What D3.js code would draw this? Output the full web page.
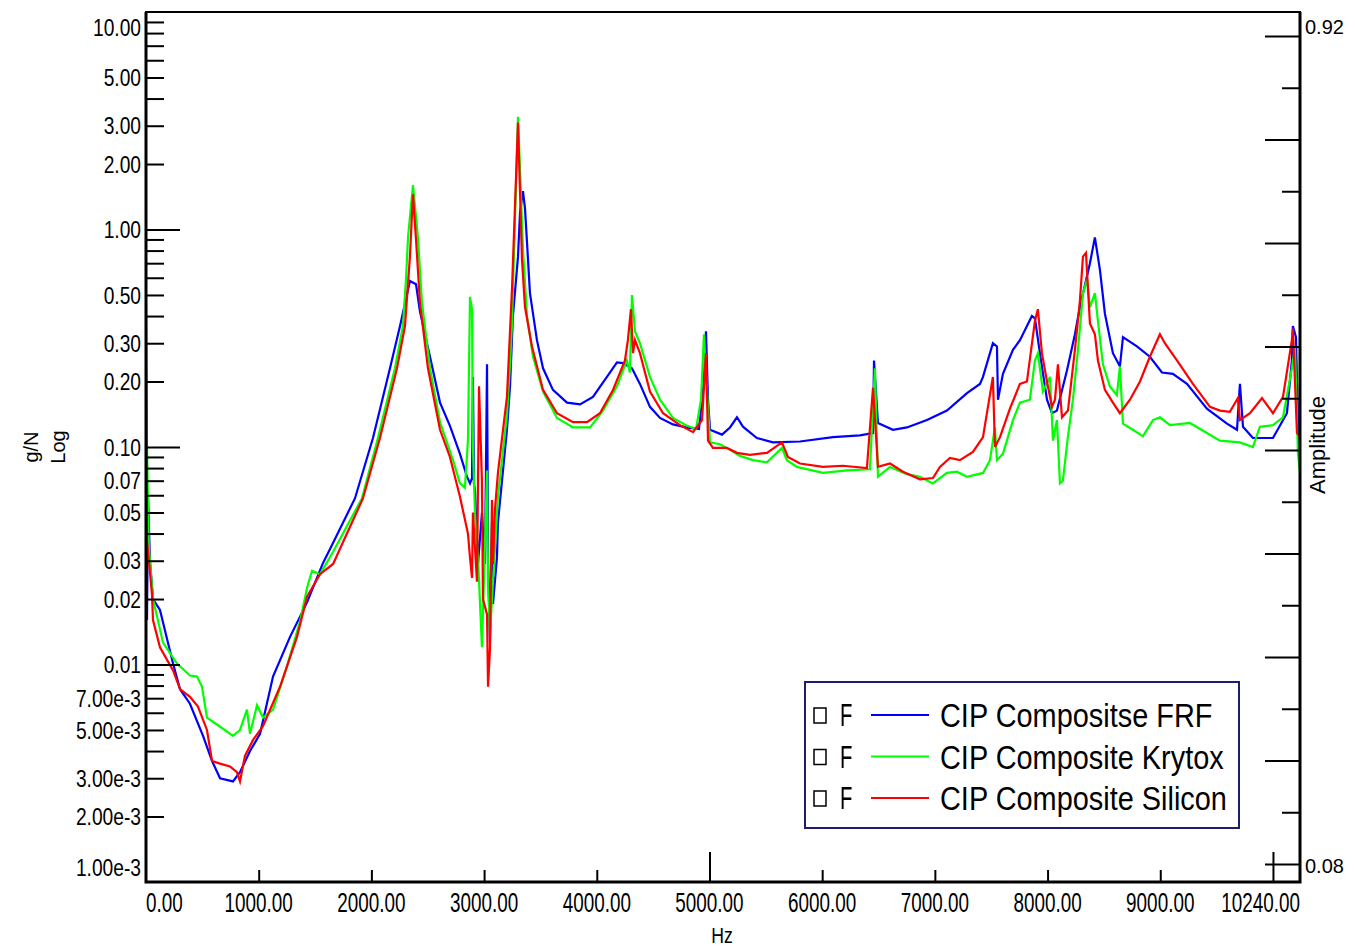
<!DOCTYPE html>
<html>
<head>
<meta charset="utf-8">
<script src="https://cdn.jsdelivr.net/npm/d3@7"></script>
<style>
  body { margin: 0; background: #fff; }
  svg text { font-family: "Liberation Sans", Arial, sans-serif; fill: #000; }
</style>
</head>
<body>
<div id="chart"></div>
<script>
// series: [Hz, g/N]
const seriesNames = ["CIP Compositse FRF", "CIP Composite Krytox", "CIP Composite Silicon"];
const seriesColors = ["#0000ff", "#00ff00", "#ff0000"];

const frfData = [
  [0,0.45],[9,0.016],[18,0.06],[35,0.03],[62,0.02],[124,0.0178],[240,0.0101],[302,0.0077],[390,0.0066],
  [506,0.0047],[586,0.0036],[657,0.0030],[772,0.0029],[834,0.0032],[923,0.0040],[1012,0.0048],[1127,0.0088],
  [1278,0.0134],[1429,0.0193],[1571,0.0293],[1633,0.034],[1854,0.058],[2014,0.11],[2165,0.23],[2254,0.36],
  [2342,0.58],[2396,0.56],[2431,0.42],[2520,0.26],[2609,0.16],[2697,0.125],[2786,0.093],[2848,0.073],
  [2875,0.068],[2893,0.072],[2901,0.21],[2910,0.068],[2919,0.063],[2946,0.029],[2981,0.050],[3008,0.029],
  [3026,0.24],[3035,0.031],[3052,0.0125],[3070,0.045],[3079,0.019],[3114,0.031],[3123,0.045],[3159,0.07],
  [3203,0.12],[3230,0.19],[3256,0.40],[3301,0.75],[3319,1.2],[3345,1.5],[3363,1.25],[3381,0.87],[3407,0.51],
  [3469,0.31],[3523,0.23],[3611,0.183],[3736,0.16],[3851,0.157],[3966,0.17],[4090,0.21],[4179,0.245],
  [4232,0.243],[4312,0.23],[4383,0.195],[4472,0.153],[4561,0.136],[4676,0.127],[4792,0.123],[4907,0.121],
  [4951,0.2],[4969,0.34],[4987,0.165],[5005,0.12],[5111,0.114],[5182,0.123],[5244,0.137],[5297,0.124],
  [5421,0.11],[5563,0.105],[5803,0.106],[6096,0.111],[6335,0.113],[6451,0.116],[6460,0.25],[6495,0.129],
  [6628,0.12],[6752,0.123],[6930,0.133],[7107,0.147],[7285,0.177],[7400,0.195],[7427,0.21],[7515,0.30],
  [7551,0.29],[7560,0.165],[7604,0.217],[7693,0.28],[7755,0.31],[7861,0.40],[7888,0.39],[7932,0.27],
  [7995,0.165],[8039,0.143],[8083,0.147],[8172,0.225],[8243,0.33],[8287,0.44],[8376,0.70],[8420,0.92],
  [8465,0.65],[8509,0.41],[8580,0.27],[8642,0.235],[8669,0.32],[8793,0.29],[8908,0.26],[9015,0.22],
  [9112,0.217],[9237,0.195],[9414,0.15],[9592,0.128],[9681,0.12],[9707,0.195],[9734,0.124],[9822,0.11],
  [10000,0.11],[10124,0.143],[10168,0.25],[10177,0.36],[10204,0.32],[10222,0.133],[10240,0.093]
];

const krytoxData = [
  [0,0.30],[9,0.10],[25,0.035],[62,0.02],[151,0.0126],[275,0.0101],[390,0.0089],[453,0.0088],[497,0.0079],
  [541,0.0057],[630,0.0053],[772,0.0047],[834,0.0050],[896,0.0062],[923,0.0048],[985,0.0065],[1038,0.0057],
  [1127,0.0062],[1251,0.0098],[1367,0.0158],[1429,0.0225],[1473,0.027],[1544,0.026],[1660,0.033],
  [1916,0.058],[2058,0.11],[2209,0.23],[2280,0.36],[2307,0.59],[2325,0.92],[2369,1.6],[2413,0.92],
  [2449,0.46],[2520,0.23],[2609,0.13],[2724,0.087],[2786,0.068],[2830,0.065],[2857,0.108],[2875,0.49],
  [2893,0.43],[2901,0.10],[2919,0.05],[2946,0.031],[2981,0.012],[2990,0.017],[3026,0.078],[3035,0.024],
  [3052,0.0138],[3079,0.024],[3123,0.059],[3159,0.087],[3203,0.14],[3230,0.24],[3248,0.37],[3256,0.53],
  [3301,3.3],[3345,0.81],[3381,0.40],[3434,0.26],[3523,0.18],[3647,0.136],[3789,0.123],[3940,0.123],
  [4055,0.147],[4179,0.19],[4267,0.25],[4294,0.22],[4312,0.50],[4339,0.34],[4383,0.30],[4472,0.21],
  [4561,0.165],[4676,0.136],[4792,0.126],[4881,0.121],[4925,0.165],[4951,0.33],[4969,0.22],[5005,0.105],
  [5093,0.103],[5182,0.097],[5270,0.091],[5386,0.087],[5510,0.085],[5643,0.099],[5687,0.087],[5776,0.081],
  [6007,0.076],[6220,0.078],[6424,0.079],[6468,0.23],[6495,0.073],[6602,0.081],[6752,0.075],[6868,0.073],
  [6983,0.068],[7107,0.076],[7196,0.077],[7285,0.073],[7427,0.076],[7489,0.087],[7533,0.123],[7551,0.087],
  [7604,0.093],[7693,0.133],[7755,0.16],[7843,0.165],[7888,0.25],[7914,0.27],[7959,0.18],[8021,0.21],
  [8048,0.107],[8083,0.133],[8110,0.068],[8136,0.07],[8181,0.112],[8225,0.165],[8270,0.28],[8314,0.51],
  [8350,0.59],[8376,0.44],[8420,0.51],[8447,0.38],[8491,0.24],[8553,0.19],[8615,0.173],[8642,0.235],
  [8669,0.128],[8758,0.12],[8846,0.112],[8935,0.133],[8997,0.137],[9086,0.126],[9263,0.129],[9414,0.116],
  [9530,0.107],[9707,0.105],[9822,0.10],[9884,0.124],[10000,0.126],[10089,0.137],[10168,0.23],[10195,0.29],
  [10222,0.093],[10240,0.076]
];

const siliconData = [
  [0,0.22],[9,0.037],[53,0.021],[62,0.016],[124,0.012],[240,0.0094],[302,0.0077],[390,0.0071],[461,0.0064],
  [541,0.0050],[586,0.0036],[657,0.0035],[745,0.0034],[807,0.0032],[834,0.0029],[878,0.0038],[950,0.0045],
  [1038,0.0052],[1189,0.0079],[1340,0.0134],[1429,0.0205],[1544,0.026],[1660,0.029],[1925,0.058],
  [2076,0.11],[2227,0.23],[2298,0.36],[2342,0.75],[2369,1.45],[2396,0.9],[2431,0.46],[2502,0.23],
  [2609,0.12],[2697,0.09],[2786,0.059],[2857,0.040],[2875,0.031],[2893,0.025],[2901,0.050],[2937,0.024],
  [2955,0.19],[2981,0.07],[2990,0.020],[3026,0.017],[3035,0.0079],[3052,0.0117],[3070,0.057],[3079,0.029],
  [3097,0.052],[3123,0.076],[3168,0.12],[3203,0.17],[3230,0.34],[3248,0.54],[3301,3.1],[3336,0.73],
  [3363,0.44],[3425,0.29],[3523,0.183],[3647,0.143],[3789,0.13],[3913,0.13],[4028,0.143],[4144,0.183],
  [4250,0.25],[4276,0.31],[4303,0.43],[4321,0.27],[4339,0.31],[4383,0.27],[4472,0.18],[4588,0.143],
  [4738,0.126],[4854,0.117],[4934,0.133],[4969,0.27],[4987,0.107],[5031,0.099],[5155,0.099],[5244,0.094],
  [5359,0.092],[5510,0.094],[5643,0.105],[5696,0.090],[5803,0.084],[6007,0.081],[6184,0.082],[6397,0.080],
  [6451,0.187],[6495,0.081],[6602,0.084],[6717,0.077],[6868,0.071],[6983,0.072],[7045,0.081],[7134,0.089],
  [7222,0.087],[7338,0.095],[7427,0.111],[7515,0.21],[7533,0.10],[7578,0.111],[7666,0.15],[7755,0.195],
  [7817,0.20],[7888,0.38],[7914,0.43],[7950,0.27],[7995,0.20],[8039,0.153],[8066,0.165],[8092,0.24],
  [8128,0.137],[8181,0.147],[8243,0.28],[8287,0.47],[8314,0.75],[8341,0.78],[8376,0.37],[8420,0.33],
  [8447,0.25],[8509,0.183],[8580,0.16],[8642,0.143],[8731,0.165],[8820,0.20],[8908,0.26],[8997,0.33],
  [9041,0.30],[9148,0.25],[9290,0.195],[9441,0.153],[9530,0.147],[9618,0.145],[9689,0.168],[9707,0.133],
  [9796,0.143],[9903,0.168],[10000,0.143],[10089,0.17],[10168,0.31],[10177,0.35],[10213,0.116],[10240,0.111]
];

const xTickValues = [0, 1000, 2000, 3000, 4000, 5000, 6000, 7000, 8000, 9000, 10240];
const yTickLabels = [10, 5, 3, 2, 1, 0.5, 0.3, 0.2, 0.1, 0.07, 0.05, 0.03, 0.02, 0.01, 0.007, 0.005, 0.003, 0.002, 0.001];
const rightAxisLabels = [0.92, 0.08];

const W = 1355, H = 948;
const L = 146, R = 1300, T = 12, B = 882;

const svg = d3.select("#chart").append("svg").attr("width", W).attr("height", H);

const x = d3.scaleLinear().domain([0, 10240]).range([L, R]);
const y = d3.scaleLog().domain([1e-3, 10]).range([B, T]);
const amp = d3.scaleLinear().domain([0.08, 0.92]).range([864, 36]);

// curves
svg.append("clipPath").attr("id", "plot").append("rect")
  .attr("x", L).attr("y", T).attr("width", R - L).attr("height", B - T);

const line = d3.line().x(d => x(d[0])).y(d => y(d[1]));
svg.append("g").attr("clip-path", "url(#plot)")
  .selectAll("path").data([frfData, krytoxData, siliconData]).enter().append("path")
  .attr("d", line)
  .attr("fill", "none")
  .attr("stroke", (d, i) => seriesColors[i])
  .attr("stroke-width", 2.2)
  .attr("stroke-linejoin", "miter");

// left axis ticks (inside)
const minor = [];
[1e-3, 1e-2, 1e-1, 1].forEach(d => d3.range(1, 10).forEach(k => { if (!(d === 1e-3 && k === 1)) minor.push(d * k); }));
const major = [0.01, 0.1, 1];

const tickStyle = g => { g.select(".domain").remove(); g.selectAll("line").attr("stroke", "#000").attr("stroke-width", 2); };

svg.append("g").attr("transform", `translate(${L},0)`)
  .call(d3.axisRight(y).tickValues(minor.filter(v => !major.includes(v))).tickSize(18).tickFormat(""))
  .call(tickStyle);
svg.append("g").attr("transform", `translate(${L},0)`)
  .call(d3.axisRight(y).tickValues(major).tickSize(34).tickFormat(""))
  .call(tickStyle);

// bottom ticks
svg.append("g").attr("transform", `translate(0,${B})`)
  .call(d3.axisTop(x).tickValues([1000, 2000, 3000, 4000, 6000, 7000, 8000, 9000]).tickSize(12).tickFormat(""))
  .call(tickStyle);
svg.append("g").attr("transform", `translate(0,${B})`)
  .call(d3.axisTop(x).tickValues([5000, 10000]).tickSize(30).tickFormat(""))
  .call(tickStyle);

// right axis ticks
const ampTicks = d3.range(17).map(i => 0.08 + i * 0.0525);
svg.append("g").attr("transform", `translate(${R},0)`)
  .call(d3.axisLeft(amp).tickValues(ampTicks.filter((v, i) => i % 2 === 1)).tickSize(18).tickFormat(""))
  .call(tickStyle);
svg.append("g").attr("transform", `translate(${R},0)`)
  .call(d3.axisLeft(amp).tickValues(ampTicks.filter((v, i) => i % 2 === 0)).tickSize(35).tickFormat(""))
  .call(tickStyle);

// frame
svg.append("rect").attr("x", L).attr("y", T).attr("width", R - L).attr("height", B - T)
  .attr("fill", "none").attr("stroke", "#000").attr("stroke-width", 2);
svg.append("path").attr("d", `M${L},${T}V${B}H${R}V${T}`)
  .attr("fill", "none").attr("stroke", "#000").attr("stroke-width", 3);

// left labels
const fmtY = v => v >= 0.01 ? v.toFixed(2) : v.toExponential(2);
svg.append("g").selectAll("g").data(yTickLabels).enter().append("g")
  .attr("transform", d => `translate(141,${Math.min(Math.max(y(d), 27), 867)}) scale(0.8,1)`)
  .append("text")
  .attr("text-anchor", "end").attr("dy", "0.36em").attr("font-size", 24)
  .text(fmtY);

// bottom labels
svg.append("g").selectAll("g").data(xTickValues).enter().append("g")
  .attr("transform", d => `translate(${x(d)},912) scale(0.7,1)`)
  .append("text")
  .attr("font-size", 27)
  .attr("text-anchor", (d, i) => i === 0 ? "start" : i === xTickValues.length - 1 ? "end" : "middle")
  .text(d => d.toFixed(2));

// right labels
svg.append("g").selectAll("text").data(rightAxisLabels).enter().append("text")
  .attr("x", R + 5).attr("y", (d, i) => i === 0 ? 27 : 866).attr("dy", "0.36em")
  .attr("font-size", 20)
  .text(d => d.toFixed(2));

// axis titles
svg.append("text").attr("transform", "translate(38,447) rotate(-90)")
  .attr("text-anchor", "middle").attr("font-size", 20).text("g/N");
svg.append("text").attr("transform", "translate(65,447) rotate(-90)")
  .attr("text-anchor", "middle").attr("font-size", 20).text("Log");
svg.append("text").attr("transform", "translate(1325,445) rotate(-90)")
  .attr("text-anchor", "middle").attr("font-size", 22).text("Amplitude");
svg.append("g").attr("transform", "translate(722,943) scale(0.8,1)")
  .append("text").attr("text-anchor", "middle").attr("font-size", 22).text("Hz");

// legend
const leg = svg.append("g");
leg.append("rect").attr("x", 805).attr("y", 682).attr("width", 434).attr("height", 146)
  .attr("fill", "#fff").attr("stroke", "#1c1c70").attr("stroke-width", 2);
const rows = leg.selectAll("g.row").data(seriesNames).enter().append("g")
  .attr("class", "row").attr("transform", (d, i) => `translate(0,${715 + i * 41.5})`);
rows.append("rect").attr("x", 814).attr("y", -7).attr("width", 12).attr("height", 15)
  .attr("fill", "none").attr("stroke", "#000").attr("stroke-width", 1.5);
rows.append("g").attr("transform", "translate(840,11) scale(0.65,1)")
  .append("text").attr("font-size", 31).text("F");
rows.append("line").attr("x1", 871).attr("x2", 929).attr("y1", 0).attr("y2", 0)
  .attr("stroke", (d, i) => seriesColors[i]).attr("stroke-width", 2);
rows.append("g").attr("transform", "translate(940,12) scale(0.85,1)")
  .append("text").attr("font-size", 34).text(d => d);
</script>
</body>
</html>
